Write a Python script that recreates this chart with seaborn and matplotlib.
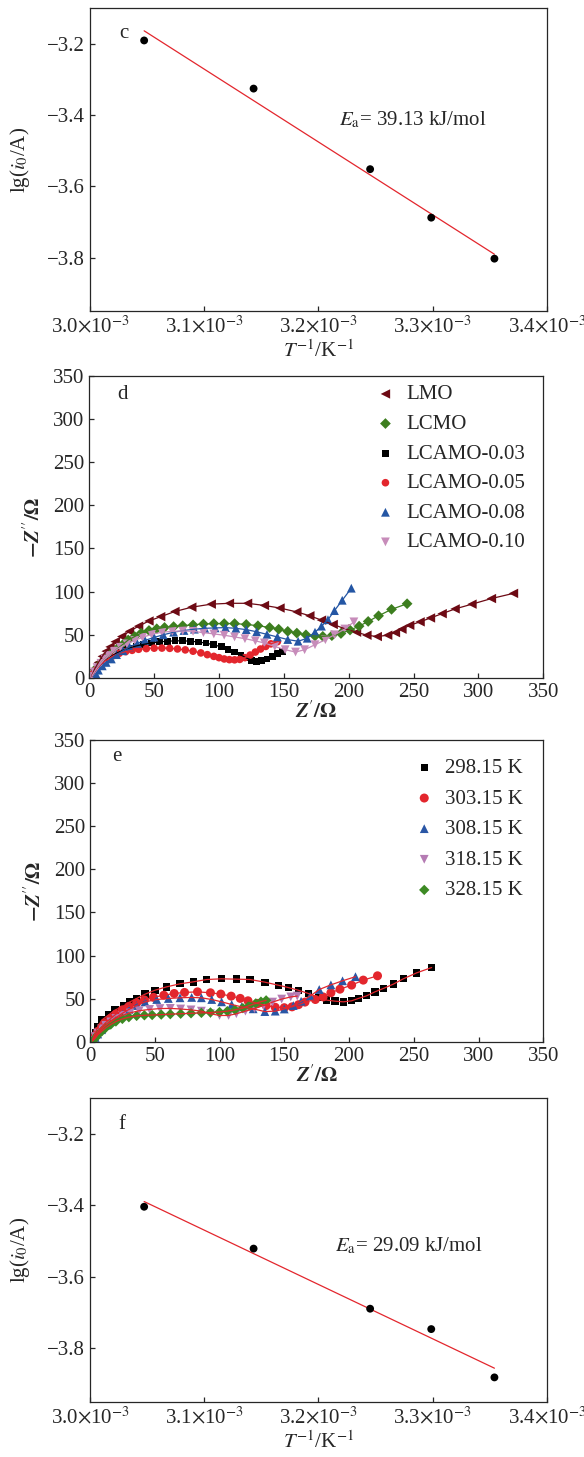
import numpy as np
import pandas as pd
import seaborn as sns
from matplotlib import pyplot as plt
from matplotlib.ticker import FuncFormatter, MultipleLocator

# ---- panel c / f : Arrhenius plots ----
inv_T = [3.0474e-3, 3.1432e-3, 3.2452e-3, 3.2987e-3, 3.3540e-3]
lg_i0_c = [-3.191, -3.326, -3.552, -3.688, -3.803]
lg_i0_f = [-3.404, -3.521, -3.689, -3.746, -3.881]
ea_c = "39.13"
ea_f = "29.09"

# ---- panel d : Nyquist plots of the samples ----
lmo_x = [2, 4, 7, 10, 13, 16, 20, 25, 31, 38, 46, 55, 66, 79, 94, 108, 122, 135, 147, 160,
         170, 179, 188, 197, 206, 214, 222, 230, 236, 241, 247, 255, 263, 272, 282, 295, 310, 327]
lmo_y = [3, 10, 18, 25, 31, 36, 42, 48, 54, 60, 66, 71, 77, 82, 85.5, 86.5, 86.5, 84, 81, 76.5,
         72, 67, 62, 57, 53, 49.5, 48, 49.5, 52.5, 56.5, 61, 65, 69.5, 74.5, 80, 85.5, 92, 98]
lcmo_x = [2, 4, 6, 9, 12, 16, 21, 26, 30, 35, 40, 46, 52, 58, 65, 72, 80, 88, 96, 104, 112, 121,
          130, 139, 146, 153, 160, 167, 174, 180, 187, 194, 201, 208, 215, 223, 233, 245]
lcmo_y = [2, 7, 12, 17, 22, 27, 33, 39, 44, 48, 52, 55, 57, 58.5, 59.5, 60.5, 61.5, 62.5, 63, 63,
          63, 62, 60.5, 58.5, 56.5, 54, 52, 50, 48.6, 48.2, 49, 51.5, 55.5, 60, 65.5, 72, 79.5, 86]
l03_x = [2, 4, 6, 9, 12, 16, 20, 25, 30, 36, 42, 48, 54, 60, 66, 72, 78, 84, 90, 96, 102, 107,
         112, 117, 121, 125, 129, 133, 137, 141, 145, 149]
l03_y = [2, 7, 12, 16, 20, 24, 28, 31.5, 34.5, 37, 39, 40.5, 41.8, 42.5, 43, 43, 42.6, 41.7, 40.4,
         38.3, 36, 33, 30, 26.5, 23.2, 20.5, 19.3, 19.8, 22, 25, 28, 31]
l05_x = [2, 3, 5, 7, 9, 12, 15, 19, 23, 28, 33, 38, 44, 50, 56, 62, 68, 74, 80, 86, 91, 96, 100,
         104, 108, 112, 116, 120, 124, 128, 132, 136, 140, 145]
l05_y = [2, 5, 9, 13, 16, 19.5, 22.5, 26, 28.5, 30.5, 32, 33.2, 34, 34.5, 34.6, 34.3, 33.6, 32.5,
         31, 29, 27, 25, 23.5, 22, 21.2, 21, 21.5, 23.5, 26.5, 30, 33.5, 36.5, 39.5, 42]
l08_x = [3, 5, 7, 10, 13, 17, 21, 26, 31, 37, 43, 50, 57, 65, 73, 81, 89, 97, 105, 113, 121, 129,
         137, 145, 153, 161, 168, 174, 179, 184, 189, 195, 202]
l08_y = [1, 5, 9, 14, 18, 22, 27, 31.5, 36, 40, 43.5, 47, 50, 53, 55, 56.5, 57.5, 58, 58.3, 57.5,
         56, 53.5, 50.5, 47.5, 44.5, 42.5, 46, 53, 60, 67.5, 78, 90, 104]
l10_x = [2, 4, 6, 9, 12, 15, 19, 24, 29, 35, 41, 48, 56, 64, 72, 80, 88, 96, 104, 112, 120, 128,
         135, 143, 151, 159, 166, 174, 182, 189, 197, 204]
l10_y = [2, 7, 12, 17, 22, 26, 31, 35.5, 39.5, 43.5, 47, 50.5, 53, 54, 54.5, 54, 52.5, 51, 49.5,
         47.5, 45.5, 43, 40.5, 36.5, 32.7, 30, 32.7, 38.5, 44.3, 50, 56.7, 65]
samples = ["LMO", "LCMO", "LCAMO-0.03", "LCAMO-0.05", "LCAMO-0.08", "LCAMO-0.10"]

# ---- panel e : Nyquist plots at different temperatures ----
k298_x = [2, 4, 6, 9, 14.2, 19.3, 25.7, 30.9, 36, 42.5, 50.2, 59.2, 69.5, 79.8, 90.1, 101.6, 113.2,
          123.5, 135.1, 145.4, 153.1, 160.8, 168.6, 176.3, 182.7, 189.1, 195.6, 202, 207.2, 213.6,
          220, 226.5, 234.2, 241.9, 252.2, 263.8]
k298_y = [3, 10, 17, 25.1, 30.9, 36.7, 41.3, 46.3, 50.2, 55.2, 59.8, 63.7, 67.2, 69.5, 72.2, 73,
          72.6, 72.2, 69.1, 65.6, 62.9, 59.8, 56, 51.4, 48.3, 47.1, 46.3, 47.5, 50.2, 53.3, 57.9,
          61.8, 66.8, 73, 79.9, 86.1]
k303_x = [2, 4, 6, 9, 12, 16, 20, 25, 30, 36, 42, 49, 57, 65, 73, 83, 93, 101, 109, 116, 122,
          129, 136, 143, 150, 156, 161, 166, 174, 180, 186, 193, 202, 211, 222]
k303_y = [2, 7, 12, 17, 22, 27, 32, 37, 41, 45, 48.5, 51.5, 54, 56, 57.2, 57.9, 56.8, 55.3, 52.9,
          50.3, 47.5, 44.5, 42, 40, 39.5, 40.5, 43, 46, 49, 52, 56.8, 61, 65.7, 71.5, 76.5]
k308_x = [2, 4, 6, 9, 12, 16, 20, 25, 30, 36, 42.5, 51.5, 60.5, 69.5, 78.5, 86, 94, 101.6, 109.4,
          117, 126, 135, 143, 150, 157, 163, 170, 177, 186, 195, 205]
k308_y = [1, 5, 9, 14, 19, 24, 28, 33, 37.5, 42, 46.3, 49, 50.2, 51, 51.4, 51, 49, 46.3, 43.2,
          40.5, 38.2, 35, 35.5, 38, 42, 47, 53, 60.6, 66, 70.7, 75.5]
k318_x = [2, 4, 6, 9, 12, 16, 20, 25, 31, 38, 46, 54, 62, 70, 78, 86, 93, 100, 107, 113, 120, 127,
          134, 141, 148, 155, 160]
k318_y = [1.5, 6, 10, 15, 19, 23, 27, 30.5, 33.5, 36, 37.5, 38.5, 38.7, 38, 37, 35.5, 32.5, 30.5,
          30.5, 32.5, 35.5, 38.5, 42, 46, 49.5, 52, 53]
k328_x = [2, 4, 6, 9, 12, 16, 20, 25, 30, 36, 42, 48, 55, 62, 70, 78, 86, 93, 100, 106, 112, 118,
          123, 128, 132, 136]
k328_y = [1, 4, 8, 12, 16, 20, 23.5, 26.5, 28.5, 30, 30.7, 31, 31.5, 32, 32.5, 33, 33.5, 34, 34.5,
          35.5, 37, 39, 42, 44.5, 46.5, 48]
temps = ["298.15 K", "303.15 K", "308.15 K", "318.15 K", "328.15 K"]

sns.set_style("ticks")
plt.rcParams['font.family'] = ['Liberation Serif', 'DejaVu Serif']
plt.rcParams['mathtext.fontset'] = 'stix'
plt.rcParams['font.size'] = 15
plt.rcParams['axes.linewidth'] = 0.9
plt.rcParams['xtick.direction'] = 'in'
plt.rcParams['ytick.direction'] = 'in'
plt.rcParams['xtick.major.size'] = 3.5
plt.rcParams['ytick.major.size'] = 3.5
plt.rcParams['xtick.major.width'] = 0.9
plt.rcParams['ytick.major.width'] = 0.9

fig = plt.figure(figsize=(5.84, 14.57), dpi=100)
ax_c = fig.add_axes([0.1541, 0.7865, 0.7825, 0.208])
ax_d = fig.add_axes([0.1529, 0.5347, 0.7774, 0.2073])
ax_e = fig.add_axes([0.1541, 0.2850, 0.7762, 0.2071])
ax_f = fig.add_axes([0.1541, 0.0377, 0.7825, 0.2087])

sci = FuncFormatter(lambda v, p: f"{v * 1e3:.1f}" + r"$\times$10$^{-3}$")
red = '#e3262d'


def arrhenius(ax, y, ea, letter, ea_pos):
    df = pd.DataFrame({'x': inv_T, 'y': y})
    sns.scatterplot(data=df, x='x', y='y', ax=ax, color='black', s=32, edgecolor='none', zorder=3)
    k, b = np.polyfit(df['x'], df['y'], 1)
    fit = pd.DataFrame({'x': [df['x'].min(), df['x'].max()]})
    fit['y'] = k * fit['x'] + b
    sns.lineplot(data=fit, x='x', y='y', ax=ax, color=red, lw=0.9, zorder=2)
    ax.set_xlim(3.0e-3, 3.4e-3)
    ax.set_ylim(-3.95, -3.1)
    ax.xaxis.set_major_locator(MultipleLocator(1e-4))
    ax.xaxis.set_major_formatter(sci)
    ax.set_yticks([-3.2, -3.4, -3.6, -3.8])
    ax.set_xlabel(r"$T^{-1}$/K$^{-1}$", labelpad=2)
    ax.set_ylabel(r"lg($i_0$/A)", labelpad=11)
    ax.text(0.063, ea_pos[2], letter, transform=ax.transAxes, va='center', fontsize=15)
    ax.text(ea_pos[0], ea_pos[1], r"$E_{\rm a}$= " + ea + " kJ/mol", transform=ax.transAxes,
            va='center', fontsize=15)


arrhenius(ax_c, lg_i0_c, ea_c, "c", (0.545, 0.630, 0.917))
arrhenius(ax_f, lg_i0_f, ea_f, "f", (0.536, 0.513, 0.914))

# panel d
d_series = [(lmo_x, lmo_y, '<', '#6d0a14', 46),
            (lcmo_x, lcmo_y, 'D', '#3d7e1f', 30),
            (l03_x, l03_y, 's', '#000000', 24),
            (l05_x, l05_y, 'o', '#e3262d', 30),
            (l08_x, l08_y, '^', '#2456a4', 40),
            (l10_x, l10_y, 'v', '#c78cba', 40)]
for name, (x, y, m, c, s) in zip(samples, d_series):
    df = pd.DataFrame({'x': x, 'y': y})
    sns.scatterplot(data=df, x='x', y='y', ax=ax_d, marker=m, color=c, s=s, edgecolor='none',
                    label=name, zorder=2)
    sns.lineplot(data=df, x='x', y='y', ax=ax_d, sort=False, color=c, lw=0.9, zorder=3,
                 legend=False)

# panel e
e_series = [(k298_x, k298_y, 's', '#000000', 28),
            (k303_x, k303_y, 'o', '#e3262d', 42),
            (k308_x, k308_y, '^', '#2a56a5', 40),
            (k318_x, k318_y, 'v', '#b57bb3', 40),
            (k328_x, k328_y, 'D', '#3d8a24', 28)]
for name, (x, y, m, c, s) in zip(temps, e_series):
    df = pd.DataFrame({'x': x, 'y': y})
    sns.scatterplot(data=df, x='x', y='y', ax=ax_e, marker=m, color=c, s=s, edgecolor='none',
                    label=name, zorder=2)
for x, y, m, c, s in e_series:
    df = pd.DataFrame({'x': x, 'y': y})
    sns.lineplot(data=df, x='x', y='y', ax=ax_e, sort=False, color=red, lw=0.9, zorder=3,
                 legend=False)

for ax, letter, pos, leg_anchor, spacing in [(ax_d, "d", (0.061, 0.94), (0.611, 0.998), 0.48),
                                             (ax_e, "e", (0.049, 0.944), (0.696, 0.967), 0.53)]:
    ax.set_xlim(0, 350)
    ax.set_ylim(0, 350)
    ax.set_xticks(range(0, 351, 50))
    ax.set_yticks(range(0, 351, 50))
    ax.set_xlabel(r"$\mathbfit{Z}'\mathbf{/\Omega}$", labelpad=0)
    ax.set_ylabel(r"$\mathbf{-}\mathbfit{Z}''\mathbf{/\Omega}$", labelpad=6)
    ax.text(pos[0], pos[1], letter, transform=ax.transAxes, va='center', fontsize=15)
    ax.legend(loc='upper left', bbox_to_anchor=leg_anchor, frameon=False, fontsize=15,
              handlelength=1.0, handletextpad=0.5, labelspacing=spacing, borderaxespad=0)

plt.savefig("out.png", dpi=100)
